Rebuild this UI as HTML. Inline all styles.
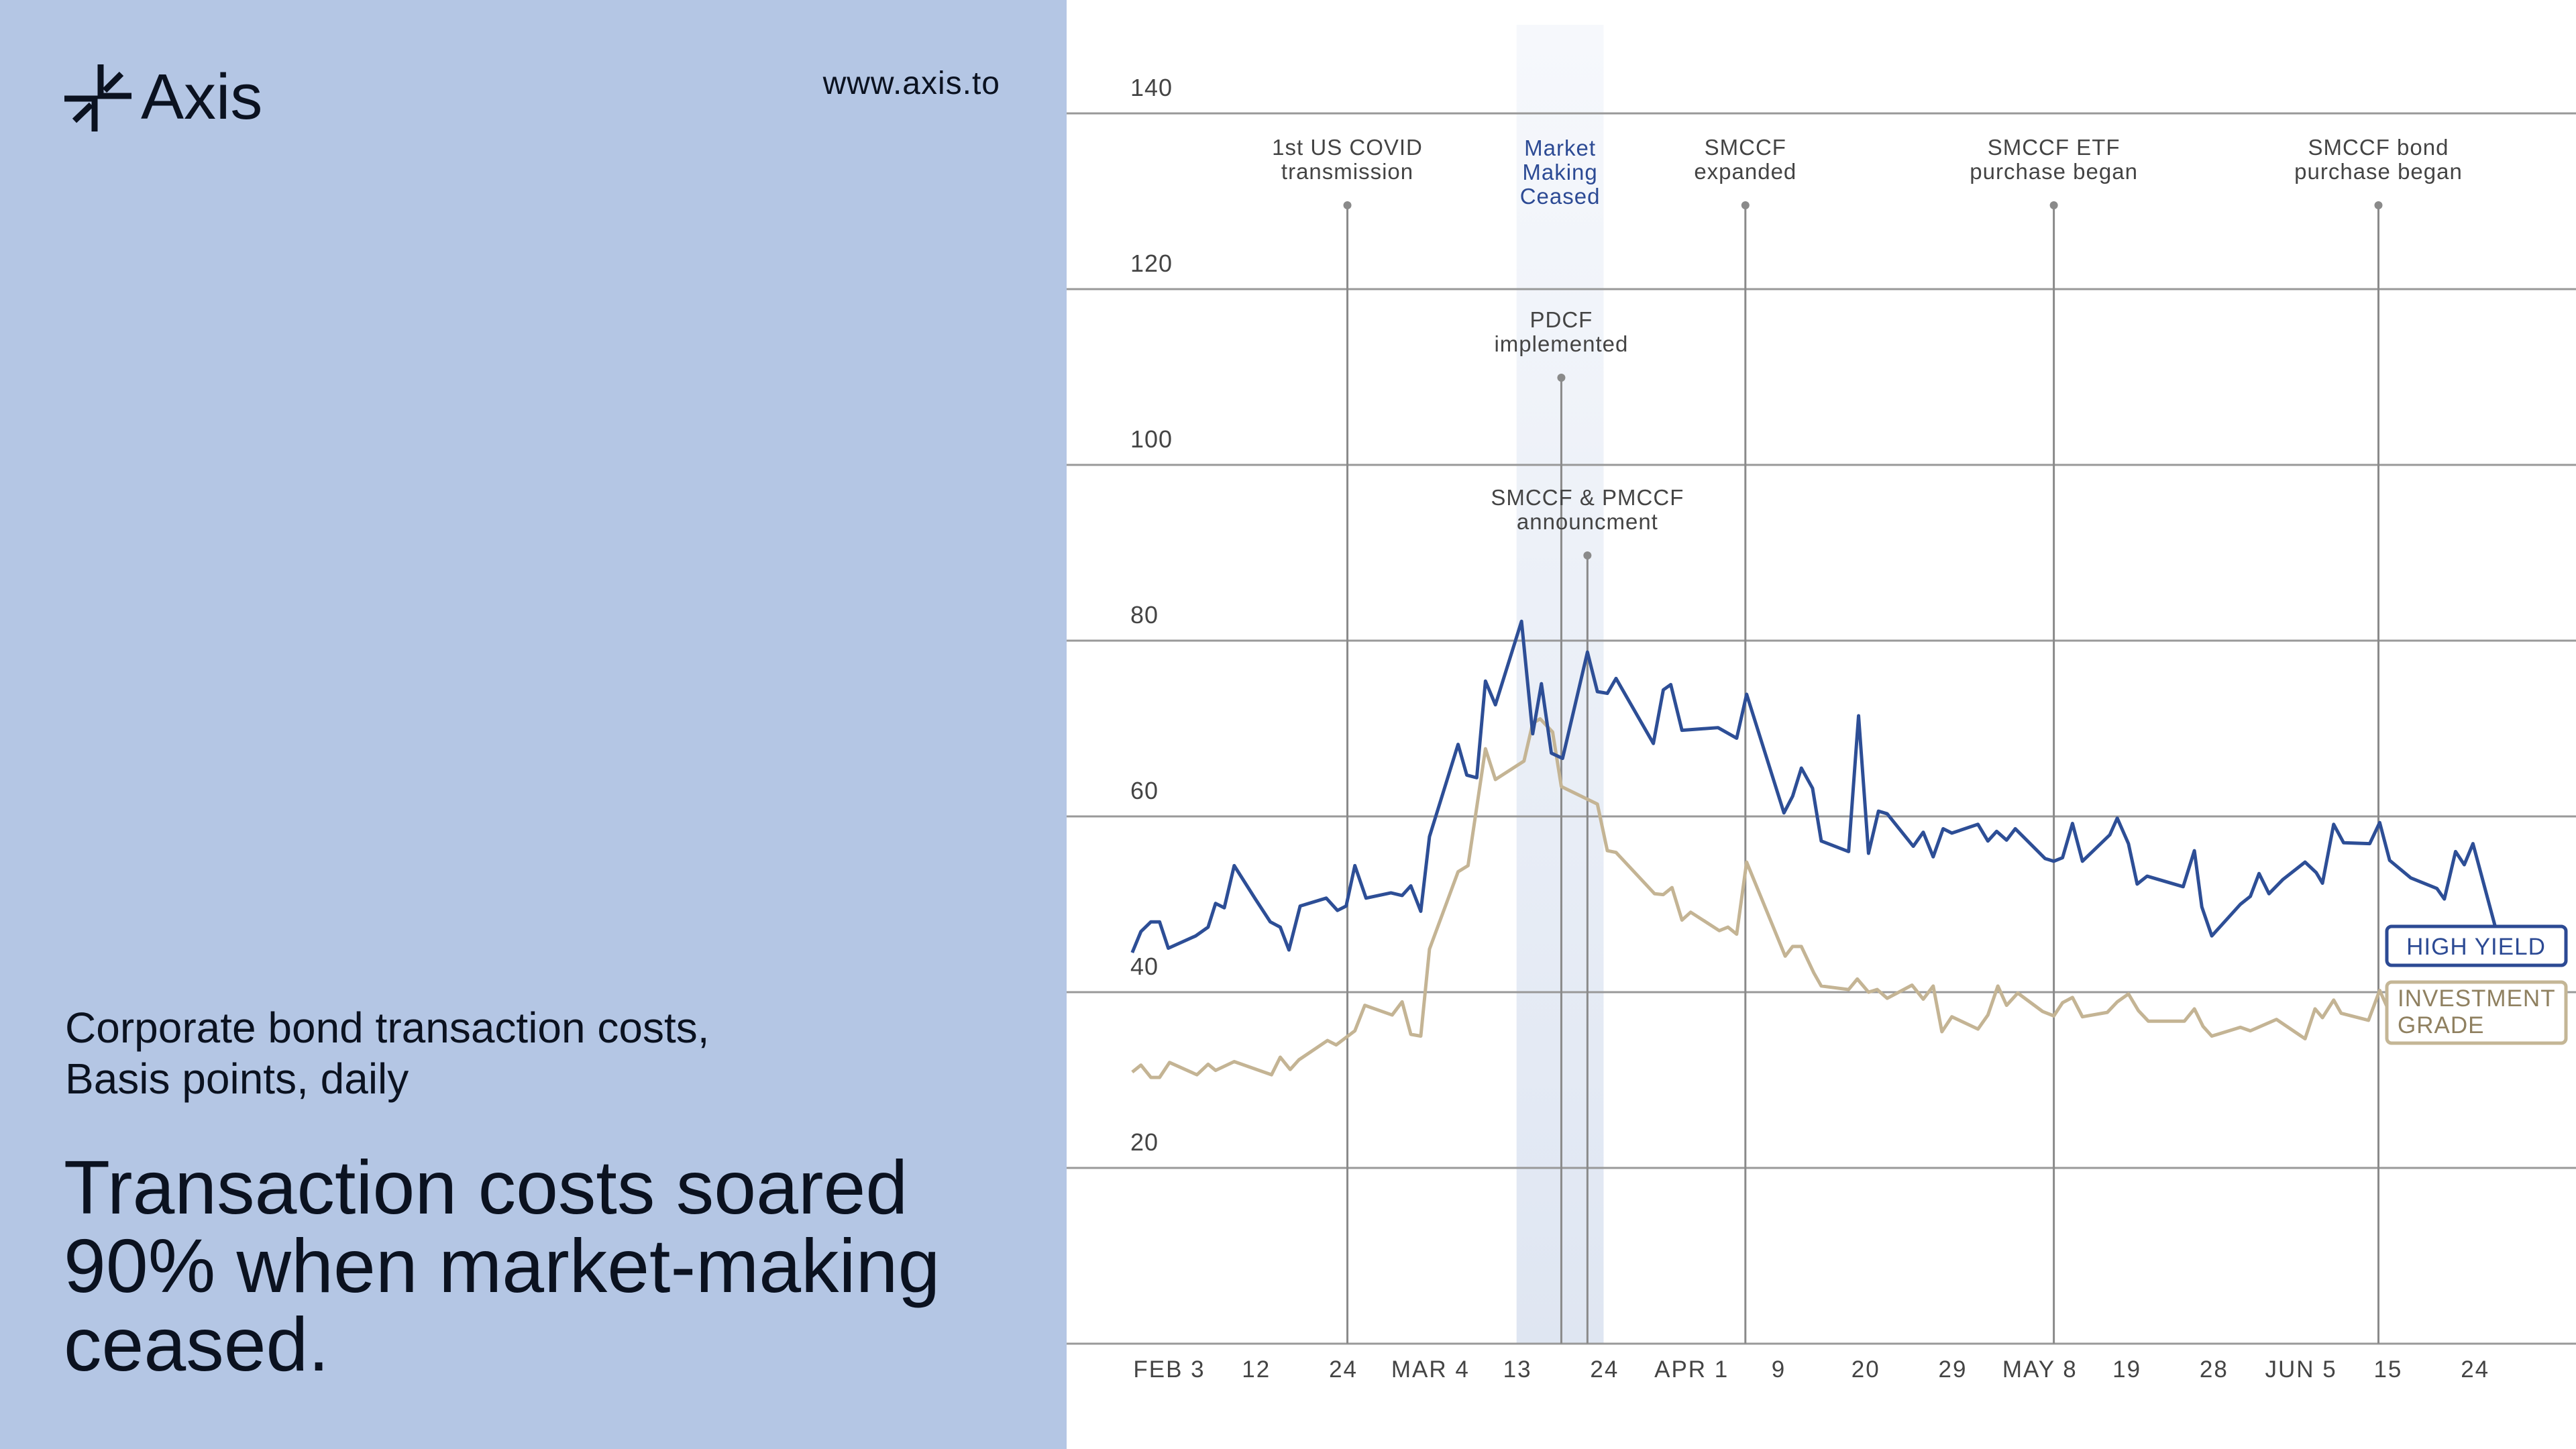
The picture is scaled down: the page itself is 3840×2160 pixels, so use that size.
<!DOCTYPE html>
<html><head><meta charset="utf-8">
<style>
html,body{margin:0;padding:0;width:3840px;height:2160px;overflow:hidden;background:#fff;font-family:"Liberation Sans",sans-serif;}
#left{position:absolute;left:0;top:0;width:1590px;height:2160px;background:#b4c6e4;}
.t{position:absolute;color:#0b1220;white-space:nowrap;}
svg{position:absolute;left:0;top:0;}
</style></head><body>
<div id="left">
  <svg width="120" height="120" style="left:90px;top:90px" viewBox="90 90 120 120">
    <g stroke="#0b1220" stroke-width="9" fill="none" stroke-linecap="butt">
      <path d="M150 96 V143 H196"/>
      <path d="M96 147 H141 V196"/>
      <path d="M181 110 L156 135"/>
      <path d="M111 180 L136 156"/>
    </g>
  </svg>
  <div class="t" style="left:210px;top:90px;font-size:96px;line-height:110px;">Axis</div>
  <div class="t" style="right:99px;top:97px;font-size:48px;line-height:56px;letter-spacing:1px;">www.axis.to</div>
  <div class="t" style="left:97px;top:1494px;font-size:64px;line-height:76px;">Corporate bond transaction costs,<br>Basis points, daily</div>
  <div class="t" style="left:95px;top:1712px;font-size:113px;line-height:117px;">Transaction costs soared<br>90% when market-making<br>ceased.</div>
</div>
<svg id="chart" width="3840" height="2160"></svg>
<script>
const yTicks=[20,40,60,80,100,120,140];
const xTickLabels=["FEB 3","12","24","MAR 4","13","24","APR 1","9","20","29","MAY 8","19","28","JUN 5","15","24"];
const xTickDays=[0,7,14,21,28,35,42,49,56,63,70,77,84,91,98,105];
const hyDays=[-2.6,-1.9,-1.1,-0.4,0.3,2.5,3.5,4.1,4.8,5.6,7.3,8.5,9.3,10.0,10.9,13.0,13.9,14.6,15.3,16.2,18.2,19.1,19.8,20.6,21.3,23.6,24.3,25.1,25.8,26.6,28.7,29.6,30.3,31.1,32.0,34.0,34.8,35.6,36.3,39.3,40.1,40.7,41.6,44.5,46.0,46.8,49.8,50.5,51.2,52.1,52.8,55.0,55.8,56.6,57.4,58.1,60.2,61.0,61.8,62.6,63.3,65.4,66.2,66.9,67.7,68.4,70.8,71.5,72.2,73.0,73.8,76.0,76.6,77.5,78.2,79.0,81.9,82.8,83.4,84.2,86.5,87.3,88.0,88.8,89.9,91.7,92.6,93.1,94.0,94.8,96.9,97.7,98.5,100.2,102.3,102.9,103.8,104.5,105.2,107.0];
const hyValues=[44.5,46.9,48.0,48.0,45.0,46.4,47.4,50.1,49.6,54.4,50.6,48.0,47.4,44.8,49.8,50.7,49.3,49.8,54.4,50.7,51.3,51.0,52.1,49.2,57.7,68.2,64.7,64.4,75.4,72.7,82.2,69.4,75.1,67.2,66.6,78.7,74.2,74.0,75.7,68.3,74.4,75.0,69.8,70.1,68.9,73.9,60.4,62.3,65.5,63.2,57.2,56.0,71.45,55.8,60.6,60.3,56.6,58.2,55.4,58.6,58.1,59.1,57.2,58.3,57.3,58.6,55.2,54.9,55.3,59.2,54.9,57.9,59.8,56.9,52.3,53.2,52.0,56.1,49.7,46.4,50.0,50.9,53.5,51.2,52.8,54.8,53.6,52.4,59.1,57.0,56.9,59.3,55.0,53.0,51.8,50.6,56.0,54.5,56.9,47.4];
const igDays=[-2.6,-1.9,-1.1,-0.4,0.4,2.6,3.5,4.1,5.6,8.6,9.3,10.1,10.8,13.1,13.8,15.3,16.1,18.3,19.1,19.8,20.6,21.3,23.6,24.4,25.8,26.6,28.9,29.6,30.2,31.2,31.9,34.8,35.6,36.3,39.4,40.1,40.8,41.6,42.3,44.6,45.3,46.0,46.8,49.9,50.5,51.2,52.2,52.8,55.0,55.7,56.6,57.3,58.1,60.1,61.0,61.8,62.5,63.3,65.4,66.2,67.0,67.7,68.6,70.6,71.5,72.2,73.0,73.8,75.8,76.6,77.5,78.3,79.1,82.0,82.8,83.5,84.2,86.5,87.3,89.4,91.7,92.5,93.1,94.0,94.6,96.8,97.7,98.3];
const igValues=[30.9,31.7,30.3,30.3,32.0,30.6,31.8,31.1,32.1,30.6,32.6,31.2,32.3,34.5,34.0,35.6,38.5,37.4,38.9,35.2,35.0,44.9,53.7,54.4,67.7,64.2,66.3,70.6,71.1,69.6,63.4,61.4,56.1,55.9,51.2,51.1,51.9,48.2,49.1,47.0,47.4,46.6,54.8,44.1,45.2,45.2,42.2,40.7,40.3,41.5,40.0,40.3,39.3,40.8,39.2,40.7,35.5,37.2,35.8,37.4,40.7,38.5,39.9,37.8,37.3,38.8,39.4,37.2,37.7,38.9,39.8,37.9,36.7,36.7,38.1,36.1,35.0,36.0,35.6,36.9,34.7,38.1,37.1,39.1,37.6,36.8,40.2,38.3];
const eventNames=[["1st US COVID","transmission"],["PDCF","implemented"],["SMCCF & PMCCF","announcment"],["SMCCF","expanded"],["SMCCF ETF","purchase began"],["SMCCF bond","purchase began"]];
const eventDays=[14.7,31.9,34.0,46.7,71.5,97.6];
const bandDays=[28.3,35.3];

const NS="http://www.w3.org/2000/svg";
const svg=document.getElementById('chart');
const X=d=>1736+d*18.54;
const Y=v=>2003-v*13.1;
function mk(tag,attrs,parent){const e=document.createElementNS(NS,tag);for(const k in attrs)e.setAttribute(k,attrs[k]);(parent||svg).appendChild(e);return e;}

const defs=mk('defs',{});
const lg=mk('linearGradient',{id:'bg',x1:0,y1:0,x2:0,y2:1},defs);
mk('stop',{offset:'0','stop-color':'#f6f8fc'},lg);mk('stop',{offset:'1','stop-color':'#dfe6f2'},lg);
const band=mk('rect',{x:X(bandDays[0]),y:37,width:X(bandDays[1])-X(bandDays[0]),height:2003-37,fill:'url(#bg)'});



const base=mk('line',{x1:1590,x2:3840,y1:Y(0),y2:Y(0),stroke:'#999','stroke-width':3});


yTicks.forEach(v=>{
  const l=mk('line',{x1:1590,x2:3840,y1:Y(v),y2:Y(v),stroke:'#999','stroke-width':3});
  
  
  const t=mk('text',{x:1685,y:Y(v)-26,'font-size':36,fill:'#444','font-family':'Liberation Sans, sans-serif','letter-spacing':'1'});
  t.textContent=v;
  
  
});
xTickDays.forEach((d,i)=>{
  const t=mk('text',{x:X(d)+7,y:2053,'font-size':35,fill:'#444','text-anchor':'middle','font-family':'Liberation Sans, sans-serif','letter-spacing':'2'});
  t.textContent=xTickLabels[i];
  
  
});
eventDays.forEach((d,i)=>{
  const x=X(d);
  const dotY=[306,563,828,306,306,306][i];
  const l=mk('line',{x1:x,x2:x,y1:dotY,y2:2003,stroke:'#8a8a8a','stroke-width':3});
  
  
  const c=mk('circle',{cx:x,cy:dotY,r:6,fill:'#8a8a8a'});
  
  
  const ty=dotY-39;
  eventNames[i].forEach((s,j)=>{
    const t=mk('text',{x:x,y:ty-36*(eventNames[i].length-1-j),'font-size':33,fill:'#444','text-anchor':'middle','font-family':'Liberation Sans, sans-serif','letter-spacing':'1'});
    t.textContent=s;
    
    
  });
});
const mmx=(X(bandDays[0])+X(bandDays[1]))/2;
["Market","Making","Ceased"].forEach((s,j)=>{
  const t=mk('text',{x:mmx,y:232+36*j,'font-size':33,fill:'#2c4a94','text-anchor':'middle','font-family':'Liberation Sans, sans-serif','letter-spacing':'1'});
  t.textContent=s;
  
  
});
function line(days,vals,color,name){
  const p=mk('polyline',{points:days.map((d,i)=>X(d)+','+Y(vals[i])).join(' '),fill:'none',stroke:color,'stroke-width':5,'stroke-linejoin':'round'});
  
  
}
line(igDays,igValues,'#c4b494','investment-grade-line');
line(hyDays,hyValues,'#2d4e96','high-yield-line');
const r1=mk('rect',{x:3558,y:1381,width:267,height:58,rx:7,fill:'#fff',stroke:'#2c4a94','stroke-width':5});


const t1=mk('text',{x:3691,y:1423,'font-size':35,fill:'#2c4a94','text-anchor':'middle','font-family':'Liberation Sans, sans-serif','letter-spacing':'1'});
t1.textContent='HIGH YIELD';


const r2=mk('rect',{x:3558,y:1464,width:267,height:91,rx:7,fill:'#fff',stroke:'#c4b696','stroke-width':5});


["INVESTMENT","GRADE"].forEach((s,j)=>{
  const t=mk('text',{x:3574,y:1500+40*j,'font-size':35,fill:'#8f8060','font-family':'Liberation Sans, sans-serif','letter-spacing':'1'});
  t.textContent=s;
  
  
});
</script>
</body></html>
